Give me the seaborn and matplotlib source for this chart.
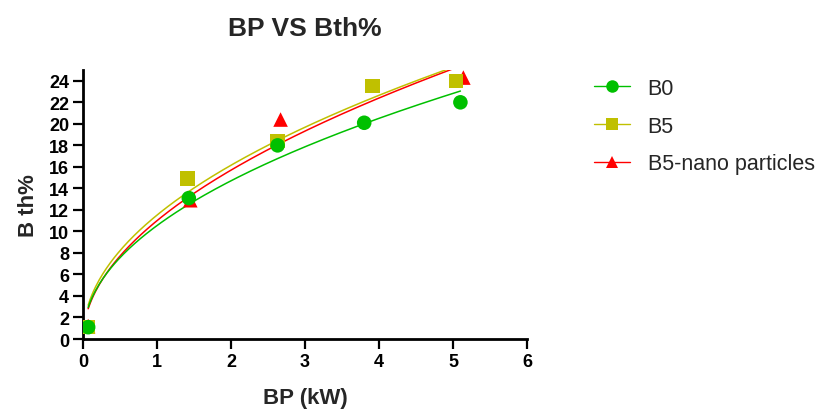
# BP vs brake thermal efficiency with power-law fits
import numpy as np
import pandas as pd
import seaborn as sns
import matplotlib.pyplot as plt
from matplotlib.lines import Line2D

# data
series = ["B0", "B5", "B5-nano particles"]
bp_b0 = [0.07, 1.43, 2.63, 3.80, 5.10]
bth_b0 = [1.1, 13.1, 18.0, 20.1, 22.0]
bp_b5 = [0.07, 1.41, 2.63, 3.91, 5.04]
bth_b5 = [1.1, 14.9, 18.4, 23.5, 24.0]
bp_nano = [0.07, 1.45, 2.67, 5.14]
bth_nano = [1.2, 12.9, 20.4, 24.3]

colors = {"B0": "#00c000", "B5": "#c0c000", "B5-nano particles": "#ff0000"}
markers = {"B0": "o", "B5": "s", "B5-nano particles": "^"}

df = pd.concat([
    pd.DataFrame({"BP": bp_b0, "Bth": bth_b0, "fuel": "B0"}),
    pd.DataFrame({"BP": bp_b5, "Bth": bth_b5, "fuel": "B5"}),
    pd.DataFrame({"BP": bp_nano, "Bth": bth_nano, "fuel": "B5-nano particles"}),
], ignore_index=True)


def power_fit(x, y):
    # least squares fit of y = a * x^b (grid over b, a in closed form)
    x = np.asarray(x)
    y = np.asarray(y)
    best = None
    for b in np.linspace(0.2, 1.2, 1001):
        xb = x ** b
        a = (y * xb).sum() / (xb * xb).sum()
        sse = ((y - a * xb) ** 2).sum()
        if best is None or sse < best[2]:
            best = (a, b, sse)
    return best[0], best[1]


fits = []
for name, g in df.groupby("fuel"):
    a, b = power_fit(g["BP"], g["Bth"])
    xs = np.linspace(g["BP"].min(), g["BP"].max(), 200)
    fits.append(pd.DataFrame({"BP": xs, "Bth": a * xs ** b, "fuel": name}))
fit_df = pd.concat(fits, ignore_index=True)

sns.set_style("ticks")
plt.rcParams["font.family"] = ["Liberation Sans", "DejaVu Sans"]

fig = plt.figure(figsize=(8.34, 4.10), dpi=100)
ax = fig.add_axes([0.0995, 0.1707, 0.5324, 0.656])

sns.lineplot(data=fit_df, x="BP", y="Bth", hue="fuel", palette=colors,
             hue_order=series[::-1], linewidth=1.1, legend=False, ax=ax,
             sort=False)
for name in series[::-1]:
    sns.scatterplot(data=df[df["fuel"] == name], x="BP", y="Bth",
                    color=colors[name], marker=markers[name], s=110,
                    edgecolor="none", legend=False, ax=ax, zorder=3)

ax.set_xlim(0, 6)
ax.set_ylim(0, 25)
ax.set_xticks(range(0, 7))
ax.set_yticks(range(0, 25, 2))
sns.despine(ax=ax)
for s in ["left", "bottom"]:
    ax.spines[s].set_linewidth(2)
    ax.spines[s].set_color("black")
ax.tick_params(length=7, width=1.6, colors="black", labelsize=13, pad=3)
for lab in ax.get_xticklabels() + ax.get_yticklabels():
    lab.set_fontweight("bold")

ax.set_title("BP VS Bth%", fontsize=19, fontweight="bold", pad=25)
ax.set_xlabel("BP (kW)", fontsize=16, fontweight="bold", labelpad=12)
ax.set_ylabel("B th%", fontsize=16, fontweight="bold", labelpad=7)

handles = [Line2D([0], [0], color=colors[n], marker=markers[n], lw=1,
                  markersize=9, markeredgewidth=0) for n in series]
fig.legend(handles, series, loc="upper left", bbox_to_anchor=(0.712, 0.808),
           frameon=False, fontsize=15.5, handlelength=1.7, handletextpad=0.8,
           labelspacing=0.78, borderaxespad=0, borderpad=0)

fig.savefig("out.png", dpi=100)
